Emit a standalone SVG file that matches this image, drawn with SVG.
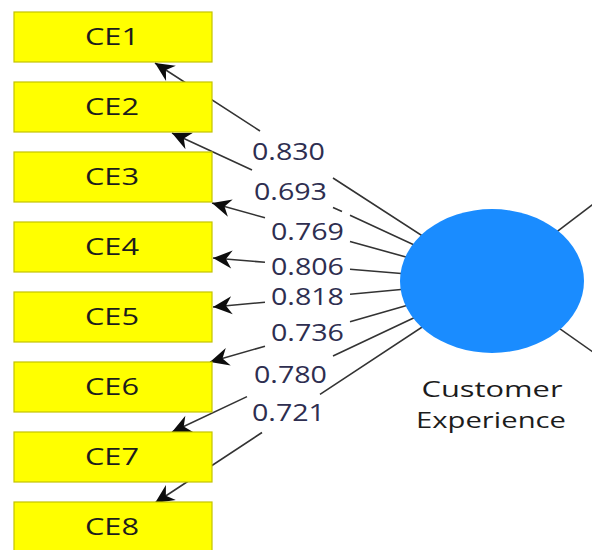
<svg xmlns="http://www.w3.org/2000/svg" width="592" height="550" viewBox="0 0 592 550">
  <defs>
    <marker id="arrow" markerUnits="userSpaceOnUse" markerWidth="21" markerHeight="20" viewBox="-20 -10 21 20" refX="0" refY="0" orient="auto">
      <path d="M0,0 L-19,-9 L-13,0 L-19,9 Z" fill="#0d0d0d"/>
    </marker>
  </defs>
  <style>
    .link { fill: none; stroke: #333; stroke-width: 1.6; }
    .ind rect { fill: #ffff00; stroke: #c4c400; stroke-width: 1.2; }
    .ind text { font-family: "Open Sans", "Noto Sans", sans-serif; font-size: 23px; fill: #1c1c1c; text-anchor: middle; }
    .coef { font-family: "Open Sans", "Noto Sans", sans-serif; font-size: 24px; fill: #2e2e50; }
    .lv ellipse { fill: #1a8cff; }
    .lv text { font-family: "Open Sans", "Noto Sans", sans-serif; font-size: 22px; fill: #1c1c1c; text-anchor: middle; }
  </style>

  <!-- loadings: latent variable centre (492,281) to each indicator, broken where the coefficient sits -->
  <g id="connectors">
    <path class="link" marker-end="url(#arrow)" d="M492,281 L333,178 M260,131 L155,63"/>
    <path class="link" marker-end="url(#arrow)" d="M492,281 L350,215.3 M342,211.6 L333,207.5 M252,170 L172,133"/>
    <path class="link" marker-end="url(#arrow)" d="M492,281 L350,241.4 M265,217.8 L212,203"/>
    <path class="link" marker-end="url(#arrow)" d="M492,281 L350,269.3 M265,262.3 L213,258"/>
    <path class="link" marker-end="url(#arrow)" d="M492,281 L350,294.2 M265,302.2 L213,307"/>
    <path class="link" marker-end="url(#arrow)" d="M492,281 L350,321.8 M265,346.2 L210,362"/>
    <path class="link" marker-end="url(#arrow)" d="M492,281 L333,356 M247,396.6 L172,432"/>
    <path class="link" marker-end="url(#arrow)" d="M492,281 L320,394.3 M262,432.5 L155,503"/>
    <!-- structural paths leaving to the right -->
    <path class="link" d="M492,281 L600,199"/>
    <path class="link" d="M492,281 L600,357"/>

    <text class="coef" x="252" y="160" textLength="73" lengthAdjust="spacingAndGlyphs">0.830</text>
    <text class="coef" x="254" y="200" textLength="73" lengthAdjust="spacingAndGlyphs">0.693</text>
    <text class="coef" x="271" y="240" textLength="73" lengthAdjust="spacingAndGlyphs">0.769</text>
    <text class="coef" x="271" y="275" textLength="73" lengthAdjust="spacingAndGlyphs">0.806</text>
    <text class="coef" x="271" y="305" textLength="73" lengthAdjust="spacingAndGlyphs">0.818</text>
    <text class="coef" x="271" y="341" textLength="73" lengthAdjust="spacingAndGlyphs">0.736</text>
    <text class="coef" x="254" y="383" textLength="73" lengthAdjust="spacingAndGlyphs">0.780</text>
    <text class="coef" x="252" y="421" textLength="73" lengthAdjust="spacingAndGlyphs">0.721</text>
  </g>

  <!-- indicator boxes -->
  <g id="CE1" class="ind"><rect x="14" y="12" width="198" height="50"/><text x="112" y="45" textLength="54" lengthAdjust="spacingAndGlyphs">CE1</text></g>
  <g id="CE2" class="ind"><rect x="14" y="82" width="198" height="50"/><text x="112" y="115" textLength="54" lengthAdjust="spacingAndGlyphs">CE2</text></g>
  <g id="CE3" class="ind"><rect x="14" y="152" width="198" height="50"/><text x="112" y="185" textLength="54" lengthAdjust="spacingAndGlyphs">CE3</text></g>
  <g id="CE4" class="ind"><rect x="14" y="222" width="198" height="50"/><text x="112" y="255" textLength="54" lengthAdjust="spacingAndGlyphs">CE4</text></g>
  <g id="CE5" class="ind"><rect x="14" y="292" width="198" height="50"/><text x="112" y="325" textLength="54" lengthAdjust="spacingAndGlyphs">CE5</text></g>
  <g id="CE6" class="ind"><rect x="14" y="362" width="198" height="50"/><text x="112" y="395" textLength="54" lengthAdjust="spacingAndGlyphs">CE6</text></g>
  <g id="CE7" class="ind"><rect x="14" y="432" width="198" height="50"/><text x="112" y="465" textLength="54" lengthAdjust="spacingAndGlyphs">CE7</text></g>
  <g id="CE8" class="ind"><rect x="14" y="502" width="198" height="50"/><text x="112" y="535" textLength="54" lengthAdjust="spacingAndGlyphs">CE8</text></g>

  <!-- latent variable -->
  <g id="CustomerExperience" class="lv">
    <ellipse cx="492" cy="281" rx="92" ry="72"/>
    <text x="492" y="397" textLength="141" lengthAdjust="spacingAndGlyphs">Customer</text>
    <text x="491" y="428" textLength="150" lengthAdjust="spacingAndGlyphs">Experience</text>
  </g>
</svg>
